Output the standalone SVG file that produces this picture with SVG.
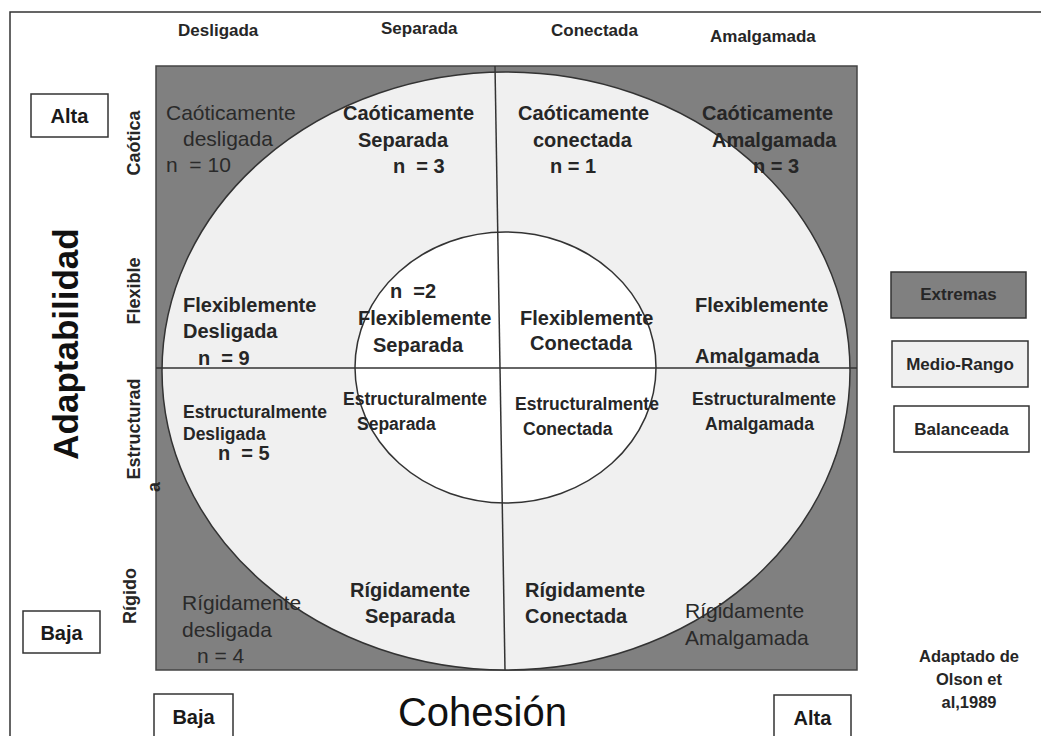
<svg xmlns="http://www.w3.org/2000/svg" width="1041" height="736" viewBox="0 0 1041 736">
<style>
text{font-family:"Liberation Sans",Arial,sans-serif;fill:#262626}
.b{font-weight:bold}
.c{font-size:20px;font-weight:bold}
.s{font-size:17.5px;font-weight:bold}
.r{font-size:21px;fill:#2a2a2a}
.hd{font-size:17px;font-weight:bold}
.ax{font-size:18px;font-weight:bold}
.lb{font-size:20px;font-weight:bold;fill:#1a1a1a}
.lg{font-size:17px;font-weight:bold}
.box{fill:#fff;stroke:#333;stroke-width:1.5}
.ln{stroke:#333;stroke-width:1.5;fill:none}
</style>
<rect x="0" y="0" width="1041" height="736" fill="#fff"/>
<rect x="10" y="12" width="1045" height="740" fill="none" stroke="#333" stroke-width="1.5"/>

<g id="chart">
<rect x="156" y="66" width="701" height="604" fill="#808080" stroke="#444" stroke-width="1.5"/>
<ellipse cx="506" cy="371" rx="344" ry="299" fill="#f0f0f0" stroke="#333" stroke-width="1.5"/>
<ellipse cx="505.5" cy="367.5" rx="150.5" ry="135.5" fill="#fff" stroke="#333" stroke-width="1.5"/>
</g>
<g id="dividers">
<line class="ln" x1="495" y1="66" x2="505" y2="670"/>
<line class="ln" x1="156" y1="368" x2="857" y2="368"/>
</g>

<g id="header">
<text class="hd" x="178" y="36">Desligada</text>
<text class="hd" x="381" y="34">Separada</text>
<text class="hd" x="551" y="36">Conectada</text>
<text class="hd" x="710" y="42">Amalgamada</text>
</g>

<g id="axis-y">
<text class="b" x="78" y="344" font-size="35" text-anchor="middle" transform="rotate(-90 78 344)" style="fill:#111">Adaptabilidad</text>
<text class="ax" x="140" y="143" text-anchor="middle" transform="rotate(-90 140 143)">Caótica</text>
<text class="ax" x="140" y="291" text-anchor="middle" transform="rotate(-90 140 291)">Flexible</text>
<text class="ax" x="140" y="429" text-anchor="middle" transform="rotate(-90 140 429)">Estructurad</text>
<text class="ax" x="160" y="487" text-anchor="middle" transform="rotate(-90 160 487)">a</text>
<text class="ax" x="136" y="596" text-anchor="middle" transform="rotate(-90 136 596)">Rígido</text>
</g>

<g id="alta-y"><rect class="box" x="31" y="94" width="77" height="43"/><text class="lb" x="69.5" y="123" text-anchor="middle">Alta</text></g>
<g id="baja-y"><rect class="box" x="23" y="611" width="77" height="42"/><text class="lb" x="61.5" y="640" text-anchor="middle">Baja</text></g>
<g id="baja-x"><rect class="box" x="154" y="694" width="79" height="50"/><text class="lb" x="193.5" y="724" text-anchor="middle">Baja</text></g>
<g id="alta-x"><rect class="box" x="774" y="695" width="77" height="50"/><text class="lb" x="812.5" y="725" text-anchor="middle">Alta</text></g>
<g id="cohesion"><text x="482.5" y="726" font-size="40" text-anchor="middle" style="fill:#111">Cohesión</text></g>

<g id="cell-caoticamente-desligada">
<text class="r" x="166" y="120">Caóticamente</text>
<text class="r" x="183" y="146">desligada</text>
<text class="r" x="166" y="172" xml:space="preserve">n  = 10</text>
</g>
<g id="cell-caoticamente-separada">
<text class="c" x="343" y="120">Caóticamente</text>
<text class="c" x="358" y="147">Separada</text>
<text class="c" x="393" y="173" xml:space="preserve">n  = 3</text>
</g>
<g id="cell-caoticamente-conectada">
<text class="c" x="518" y="120">Caóticamente</text>
<text class="c" x="533" y="147">conectada</text>
<text class="c" x="550" y="173">n = 1</text>
</g>
<g id="cell-caoticamente-amalgamada">
<text class="c" x="702" y="120">Caóticamente</text>
<text class="c" x="712" y="147">Amalgamada</text>
<text class="c" x="753" y="173">n = 3</text>
</g>

<g id="cell-flexiblemente-desligada">
<text class="c" x="183" y="312">Flexiblemente</text>
<text class="c" x="183" y="338">Desligada</text>
<text class="c" x="198" y="365" xml:space="preserve">n  = 9</text>
</g>
<g id="cell-flexiblemente-separada">
<text class="c" x="390" y="298" xml:space="preserve">n  =2</text>
<text class="c" x="358" y="325">Flexiblemente</text>
<text class="c" x="373" y="352">Separada</text>
</g>
<g id="cell-flexiblemente-conectada">
<text class="c" x="520" y="325">Flexiblemente</text>
<text class="c" x="530" y="350">Conectada</text>
</g>
<g id="cell-flexiblemente-amalgamada">
<text class="c" x="695" y="312">Flexiblemente</text>
<text class="c" x="695" y="363">Amalgamada</text>
</g>

<g id="cell-estructuralmente-desligada">
<text class="s" x="183" y="418">Estructuralmente</text>
<text class="s" x="183" y="440">Desligada</text>
<text class="c" x="218" y="460" xml:space="preserve">n  = 5</text>
</g>
<g id="cell-estructuralmente-separada">
<text class="s" x="343" y="405">Estructuralmente</text>
<text class="s" x="357" y="430">Separada</text>
</g>
<g id="cell-estructuralmente-conectada">
<text class="s" x="515" y="410">Estructuralmente</text>
<text class="s" x="523" y="435">Conectada</text>
</g>
<g id="cell-estructuralmente-amalgamada">
<text class="s" x="692" y="405">Estructuralmente</text>
<text class="s" x="705" y="430">Amalgamada</text>
</g>

<g id="cell-rigidamente-desligada">
<text class="r" x="182" y="610">Rígidamente</text>
<text class="r" x="182" y="637">desligada</text>
<text class="r" x="197" y="663">n = 4</text>
</g>
<g id="cell-rigidamente-separada">
<text class="c" x="350" y="597">Rígidamente</text>
<text class="c" x="365" y="623">Separada</text>
</g>
<g id="cell-rigidamente-conectada">
<text class="c" x="525" y="597">Rígidamente</text>
<text class="c" x="525" y="623">Conectada</text>
</g>
<g id="cell-rigidamente-amalgamada">
<text class="r" x="685" y="618">Rígidamente</text>
<text class="r" x="685" y="645">Amalgamada</text>
</g>

<g id="legend-extremas"><rect x="891" y="272" width="135" height="46" fill="#808080" stroke="#333" stroke-width="1.5"/><text class="lg" x="958.5" y="300" text-anchor="middle">Extremas</text></g>
<g id="legend-medio-rango"><rect x="892" y="341" width="136" height="46" fill="#f0f0f0" stroke="#333" stroke-width="1.5"/><text class="lg" x="960" y="370" text-anchor="middle">Medio-Rango</text></g>
<g id="legend-balanceada"><rect class="box" x="894" y="406" width="135" height="46"/><text class="lg" x="961.5" y="435" text-anchor="middle">Balanceada</text></g>

<g id="source">
<text class="b" x="969" y="662" font-size="16.5" text-anchor="middle">Adaptado de</text>
<text class="b" x="969" y="685" font-size="16.5" text-anchor="middle">Olson et</text>
<text class="b" x="969" y="708" font-size="16.5" text-anchor="middle">al,1989</text>
</g>
</svg>
